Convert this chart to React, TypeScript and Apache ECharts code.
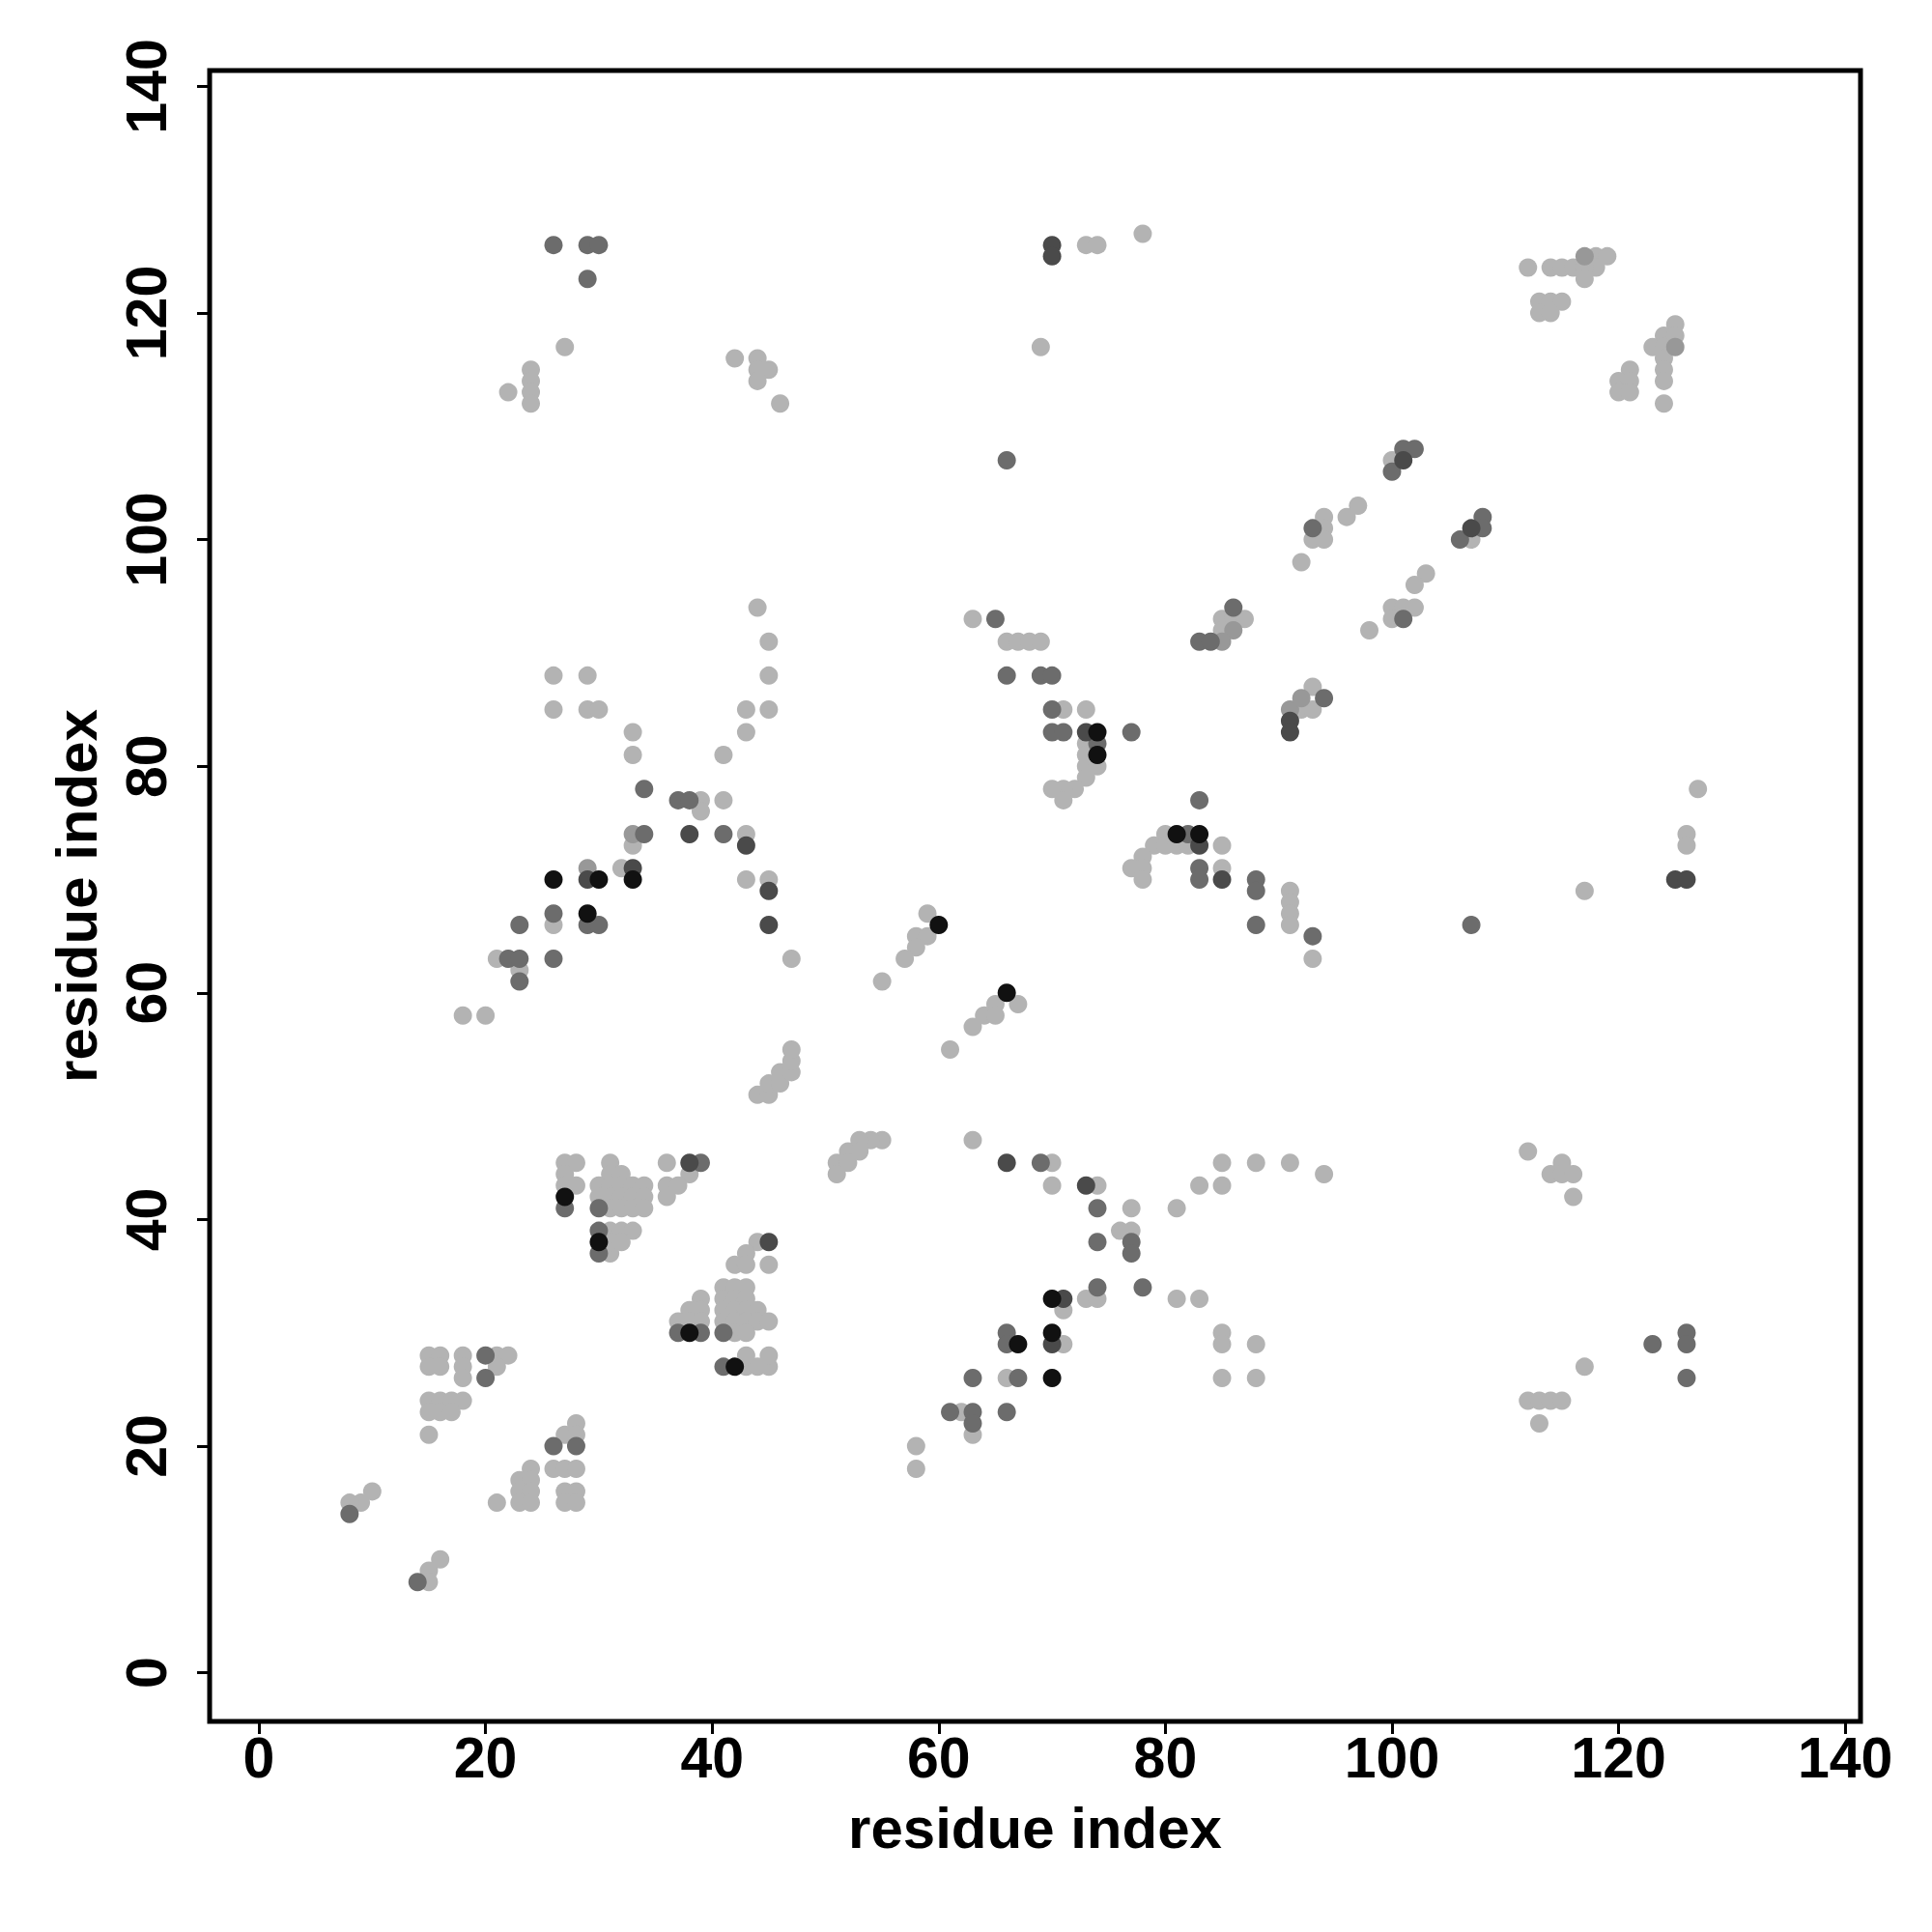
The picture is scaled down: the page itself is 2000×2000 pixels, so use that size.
import React, { useEffect, useRef } from "react";
import * as echarts from "echarts";

type P = [number, number];

const tickValues = [0, 20, 40, 60, 80, 100, 120, 140];
const axisTitle = "residue index";

const lightPts: P[] = [
  [27,117],[24,115],[24,114],[24,113],[24,112],[22,113],[42,116],[44,116],[44,115],[45,115],[44,114],[46,112],
  [73,126],[74,126],[78,127],[69,117],
  [112,124],[114,124],[115,124],[116,124],[118,125],[119,125],[118,124],[117,124],[117,123],[113,121],[114,121],[115,121],[113,120],[114,120],
  [125,119],[124,118],[125,118],[123,117],[124,117],[124,116],[124,115],[124,114],[124,112],[121,115],[120,114],[121,114],[120,113],[121,113],
  [100,107],[97,103],[96,102],[94,102],[94,101],[93,100],[94,100],[107,100],
  [44,94],[45,91],[45,88],[26,88],[29,88],[26,85],[29,85],[30,85],[43,85],[45,85],[33,83],[43,83],[33,81],[41,81],
  [39,77],[39,76],[41,77],[43,74],[33,73],[32,71],[43,70],[45,70],
  [63,93],[66,91],[67,91],[68,91],[69,91],[71,85],[73,85],[73,82],[73,81],[73,80],[74,80],[73,79],[72,78],[71,78],[70,78],[71,77],
  [85,93],[86,93],[87,93],[85,92],[80,74],[79,73],[80,73],[81,73],[82,73],[85,73],[78,72],[77,71],[78,71],[78,70],[85,71],
  [92,98],[103,97],[102,96],[100,94],[101,94],[102,94],[100,93],[98,92],[93,87],[92,85],[93,85],
  [127,78],[126,74],[126,73],[91,69],[117,69],
  [26,66],[21,63],[23,62],[18,58],[20,58],
  [44,51],[45,51],[45,52],[46,52],[46,53],[47,53],[47,54],[47,55],
  [27,45],[28,45],[27,44],[27,43],[28,43],[31,45],[31,44],[32,44],[30,43],[31,43],[32,43],[33,43],[34,43],
  [30,42],[31,42],[32,42],[33,42],[34,42],[31,41],[32,41],[33,41],[34,41],[36,45],[38,44],[36,43],[37,43],[36,42],
  [31,39],[32,39],[33,39],[31,37],[31,38],[32,38],
  [44,38],[43,37],[42,36],[43,36],[45,36],[39,33],[38,32],[39,32],[37,31],[38,31],[39,31],
  [41,34],[42,34],[43,34],[41,33],[42,33],[43,33],[41,32],[42,32],[43,32],[44,32],[41,31],[42,31],[43,31],[44,31],[45,31],
  [42,30],[43,30],[43,27],[44,27],[45,27],[43,28],[45,28],
  [15,28],[16,28],[15,27],[16,27],[18,28],[18,27],[18,26],[21,28],[22,28],[21,27],
  [15,24],[16,24],[17,24],[18,24],[15,23],[16,23],[17,23],[15,21],
  [28,22],[27,21],[28,21],[26,18],[27,18],[28,18],[24,18],[23,17],[24,17],[23,16],[24,16],[23,15],[24,15],[21,15],
  [27,16],[28,16],[27,15],[28,15],
  [10,16],[9,15],[8,15],[16,10],[15,9],[15,8],
  [76,39],[77,39],[73,33],[74,33],[71,32],[81,33],[83,33],[85,30],[85,29],[85,26],[71,29],[66,26],[62,23],[63,21],[58,20],[58,18],
  [88,29],[88,26],[112,24],[113,24],[114,24],[115,24],[113,22],[117,27],
  [47,63],[59,67],[58,65],[59,65],[58,64],[57,63],[55,61],[65,59],[67,59],[64,58],[65,58],[63,57],[61,55],
  [55,47],[54,47],[53,47],[52,46],[53,46],[51,45],[52,45],[51,44],[63,47],[70,45],[70,43],[74,43],[77,41],[81,41],[83,43],[85,43],[85,45],
  [91,68],[91,67],[91,66],[93,63],[88,45],[91,45],[94,44],[112,46],[115,45],[114,44],[115,44],[116,44],[116,42]
];

const midLightPts: P[] = [
  [29,71],[33,74],[91,85],[92,86],[86,92],[117,125],[125,117],[85,91]
];

const mediumPts: P[] = [
  [26,126],[29,126],[30,126],[29,123],[66,107],[102,108],[101,108],[100,106],[93,101],[108,102],[108,101],[106,100],
  [34,78],[37,77],[38,77],[34,74],[41,74],
  [65,93],[66,88],[69,88],[70,88],[70,85],[70,83],[71,83],[74,82],[77,83],[86,94],[83,91],[84,91],[83,77],[82,74],[83,71],[83,70],
  [101,93],[94,86],[88,70],
  [26,67],[23,66],[29,66],[30,66],[22,63],[23,63],[26,63],[23,61],
  [27,41],[39,45],[30,41],[30,39],[30,37],[37,30],[39,30],[41,30],[41,27],
  [20,28],[20,26],[26,20],[28,20],[8,14],[14,8],
  [74,38],[77,38],[77,37],[74,34],[78,34],[66,30],[66,29],[63,26],[67,26],[61,23],[63,23],[63,22],[66,23],
  [123,29],[126,30],[126,29],[126,26],
  [69,45],[74,41],[88,69],[88,66],[93,65],[107,66]
];

const darkPts: P[] = [
  [70,126],[70,125],[101,107],[107,101],[38,74],[43,73],[29,70],[33,71],[45,69],[45,66],[73,83],[83,73],[85,70],
  [91,84],[91,83],[125,70],[126,70],[66,45],[73,43],[38,45],[45,38],[71,33],[70,29]
];

const blackPts: P[] = [
  [26,70],[30,70],[33,70],[29,67],[74,83],[74,81],[81,74],[83,74],[60,66],[66,60],[27,42],[30,38],[38,30],[42,27],
  [70,33],[67,29],[70,30],[70,26]
];

const FONT = "'Liberation Sans', Arial, Helvetica, sans-serif";
const GRID = { left: 217, top: 73, width: 1709, height: 1709 };

export default function App() {
  const ref = useRef<HTMLDivElement>(null);
  useEffect(() => {
    if (!ref.current) return;
    const chart = echarts.init(ref.current, null, { renderer: "svg" });
    const labelStyle = {
      customValues: tickValues,
      color: "#000",
      fontSize: 59,
      fontWeight: "bold" as const,
      fontFamily: FONT,
    };
    const tickStyle = {
      show: true,
      customValues: tickValues,
      length: 13,
      lineStyle: { color: "#000", width: 3 },
    };
    const mk = (data: P[], color: string) => ({
      type: "scatter" as const,
      data,
      symbol: "circle",
      symbolSize: 19,
      itemStyle: { color, opacity: 1 },
      silent: true,
    });
    chart.setOption({
      animation: false,
      backgroundColor: "#fff",
      grid: { ...GRID, show: true, borderColor: "#000", borderWidth: 5, backgroundColor: "transparent" },
      xAxis: {
        type: "value",
        min: -4.35,
        max: 141.35,
        axisLine: { show: false, onZero: false },
        splitLine: { show: false },
        axisTick: tickStyle,
        axisLabel: { ...labelStyle, margin: 8 },
      },
      yAxis: {
        type: "value",
        min: -4.3,
        max: 141.4,
        axisLine: { show: false, onZero: false },
        splitLine: { show: false },
        axisTick: tickStyle,
        axisLabel: { ...labelStyle, rotate: 90, margin: 36 },
      },
      graphic: [
        {
          type: "text",
          x: GRID.left + GRID.width / 2,
          y: 1892,
          style: {
            text: axisTitle,
            fill: "#000",
            font: `bold 60px ${FONT}`,
            textAlign: "center",
            textVerticalAlign: "middle",
          },
        },
        {
          type: "text",
          x: 79,
          y: GRID.top + GRID.height / 2,
          rotation: Math.PI / 2,
          style: {
            text: axisTitle,
            fill: "#000",
            font: `bold 60px ${FONT}`,
            textAlign: "center",
            textVerticalAlign: "middle",
          },
        },
      ],
      series: [
        mk(lightPts, "#b3b3b3"),
        mk(midLightPts, "#989898"),
        mk(mediumPts, "#6c6c6c"),
        mk(darkPts, "#4a4a4a"),
        mk(blackPts, "#111111"),
      ],
    });
    return () => chart.dispose();
  }, []);
  return (
    <div
      ref={ref}
      style={{ position: "absolute", left: 0, top: 0, width: 2000, height: 2000, background: "#fff" }}
    />
  );
}
